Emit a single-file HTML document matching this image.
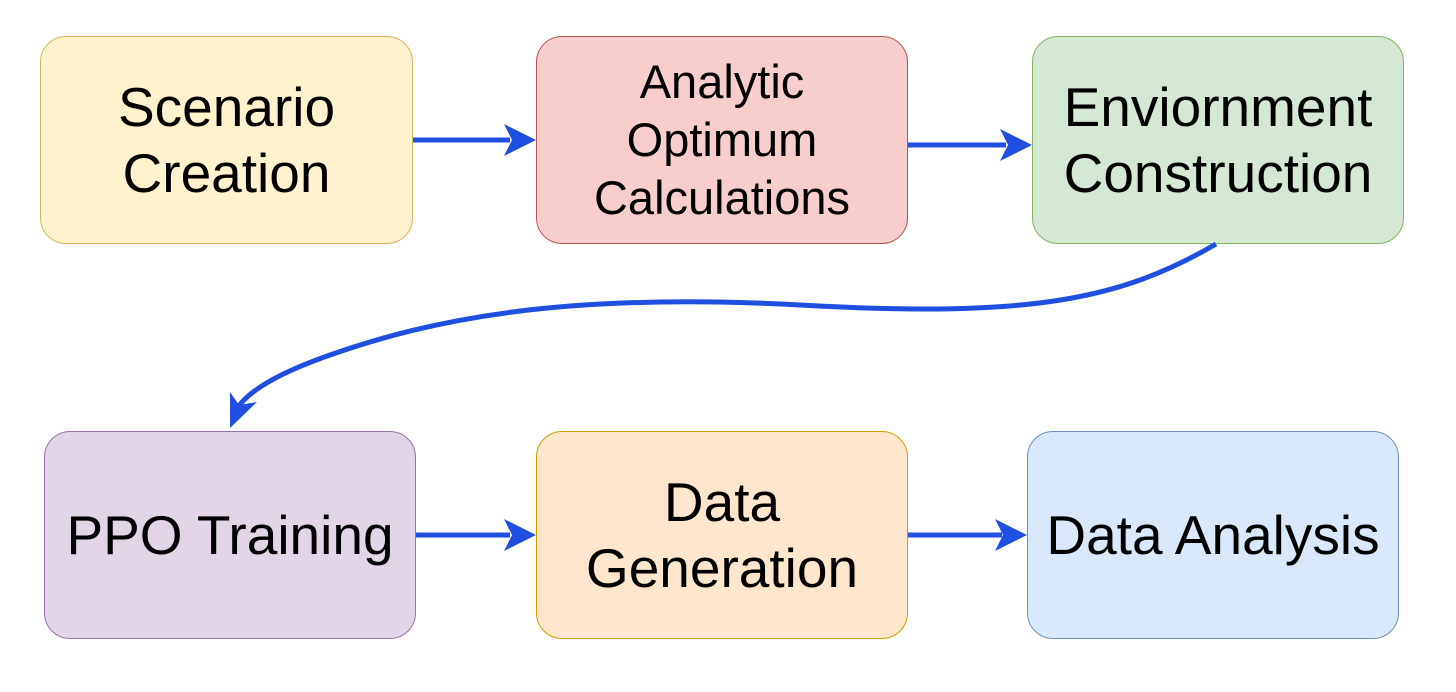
<!DOCTYPE html>
<html><head><style>
html,body{margin:0;padding:0;background:#fff;}
body{width:1456px;height:692px;position:relative;overflow:hidden;font-family:"Liberation Sans",Arial,sans-serif;}
.b{position:absolute;box-sizing:border-box;border:1.5px solid;border-radius:26px;display:flex;align-items:center;justify-content:center;text-align:center;color:#000;white-space:nowrap;}
</style></head><body>
<div class="b" style="left:40px;top:36px;width:373px;height:208px;background:#fff2cc;border-color:#d6b656;font-size:55px;line-height:66px;">Scenario<br>Creation</div>
<div class="b" style="left:536px;top:36px;width:372px;height:208px;background:#f8cecc;border-color:#b85450;font-size:47px;line-height:58px;">Analytic<br>Optimum<br>Calculations</div>
<div class="b" style="left:1032px;top:36px;width:372px;height:208px;background:#d5e8d4;border-color:#82b366;font-size:55px;line-height:66px;">Enviornment<br>Construction</div>
<div class="b" style="left:44px;top:431px;width:372px;height:208px;background:#e1d5e7;border-color:#9673a6;font-size:55px;line-height:66px;">PPO Training</div>
<div class="b" style="left:536px;top:431px;width:372px;height:208px;background:#ffe6cc;border-color:#d79b00;font-size:55px;line-height:66px;">Data<br>Generation</div>
<div class="b" style="left:1027px;top:431px;width:372px;height:208px;background:#dae8fc;border-color:#6c8ebf;font-size:55px;line-height:66px;">Data Analysis</div>
<svg width="1456" height="692" style="position:absolute;left:0;top:0">
<g stroke="#1f4ee0" stroke-width="5" fill="none">
<line x1="413" y1="140" x2="510" y2="140"/>
<line x1="908" y1="145" x2="1006" y2="145"/>
<line x1="416" y1="535" x2="510" y2="535"/>
<line x1="908" y1="535" x2="1002" y2="535"/>
<path d="M1216,244 C1120,300 1030,318 800,305 C560,292 430,320 330,355 C270,376 245,395 236,410"/>
</g>
<g fill="#1f4ee0">
<polygon points="536,140 504,124 512,140 504,156"/>
<polygon points="1032,145 1000,129 1008,145 1000,161"/>
<polygon points="536,535 504,519 512,535 504,551"/>
<polygon points="1027,535 995,519 1003,535 995,551"/>
<polygon points="230,428 230,392 239,405 257,402"/>
</g>
</svg>
</body></html>
